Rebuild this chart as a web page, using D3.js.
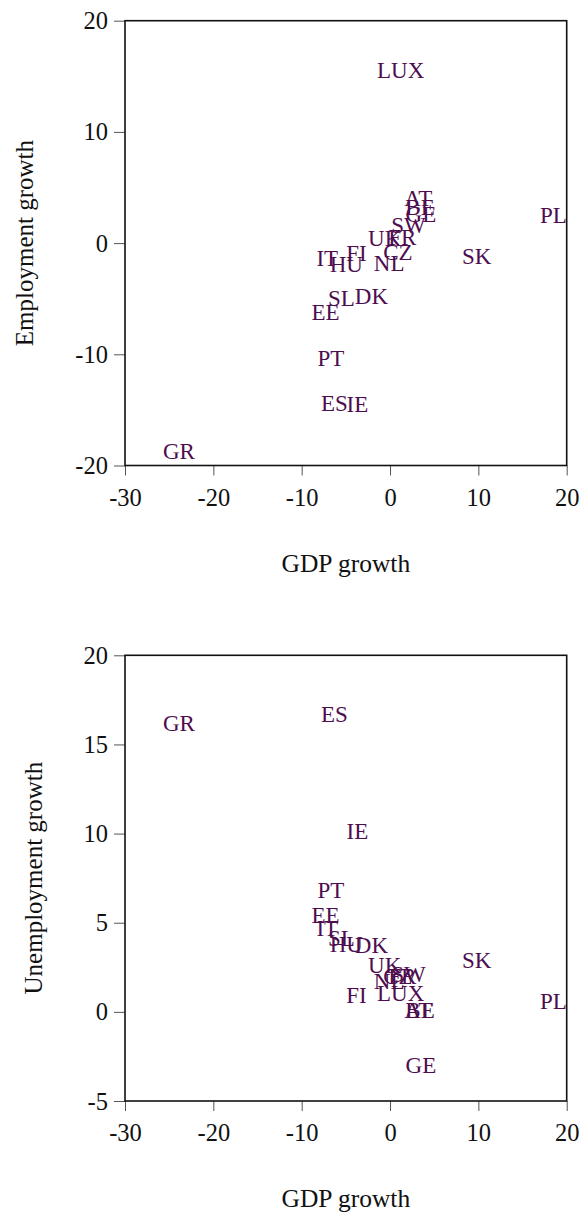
<!DOCTYPE html>
<html>
<head>
<meta charset="utf-8">
<script src="https://cdn.jsdelivr.net/npm/d3@7"></script>
<style>
  html, body { margin: 0; padding: 0; background: #fff; }
  svg { display: block; }
  text { font-family: "Liberation Serif", "Times New Roman", serif; }
</style>
</head>
<body>
<svg id="chart" width="580" height="1214"></svg>
<script>
// ---- Data ----
const countries = ["AT","BE","CZ","DK","EE","FI","FR","GE","GR","HU","IE","IT","LUX","NL","PL","PT","SK","SL","ES","SW","UK"];
const gdpGrowth = [3.2, 3.4, 0.9, -2.1, -7.3, -3.8, 1.4, 3.5, -23.9, -4.95, -3.7, -7.1, 1.2, -0.1, 18.5, -6.7, 9.8, -5.5, -6.3, 2.1, -0.6];
const employmentGrowth = [4.0, 3.2, -0.8, -4.8, -6.2, -0.9, 0.55, 2.6, -18.7, -1.9, -14.5, -1.4, 15.5, -1.8, 2.5, -10.4, -1.2, -5.0, -14.4, 1.6, 0.4];
const unemploymentGrowth = [0.1, 0.1, 2.0, 3.75, 5.4, 0.95, 2.0, -3.0, 16.2, 3.8, 10.1, 4.7, 1.05, 1.7, 0.6, 6.8, 2.9, 4.1, 16.7, 2.1, 2.6];

const xTicks = [-30, -20, -10, 0, 10, 20];
const yTicksTop = [-20, -10, 0, 10, 20];
const yTicksBottom = [-5, 0, 5, 10, 15, 20];

const svg = d3.select("#chart");
const labelColor = "#4e0d4f";
const fmt = d => String(d);

function panel(cfg) {
  const x = d3.scaleLinear().domain([-30, 20]).range([125, 566.7]);
  const y = d3.scaleLinear().domain(cfg.yDomain).range([cfg.bottom, cfg.top]);
  const g = svg.append("g");

  // axes
  const ax = g.append("g")
    .attr("transform", `translate(0,${cfg.bottom})`)
    .call(d3.axisBottom(x).tickValues(xTicks).tickSize(10).tickPadding(13).tickFormat(fmt));
  const ay = g.append("g")
    .attr("transform", `translate(125,0)`)
    .call(d3.axisLeft(y).tickValues(cfg.yTicks).tickSize(11).tickPadding(6).tickFormat(fmt));
  [ax, ay].forEach(a => {
    a.select(".domain").remove();
    a.selectAll(".tick line").attr("stroke", "#555").attr("stroke-width", 1);
    a.selectAll(".tick text")
      .attr("font-family", "'Liberation Serif', 'Times New Roman', serif")
      .attr("font-size", 24.5).attr("fill", "#111");
  });
  ay.selectAll(".tick text").attr("dy", "0.33em");
  ax.selectAll(".tick text").attr("dy", "0.71em");

  // frame
  g.append("rect")
    .attr("x", x(-30)).attr("y", y(cfg.yDomain[1]))
    .attr("width", x(20) - x(-30)).attr("height", y(cfg.yDomain[0]) - y(cfg.yDomain[1]))
    .attr("fill", "none").attr("stroke", "#111").attr("stroke-width", 1.6);

  // labels as marks
  g.append("g").selectAll("text")
    .data(countries.map((c, i) => ({ c, gx: gdpGrowth[i], v: cfg.values[i] })))
    .join("text")
    .attr("x", d => x(d.gx))
    .attr("y", d => y(d.v))
    .attr("dy", "0.33em")
    .attr("text-anchor", "middle")
    .attr("font-size", 23)
    .attr("fill", labelColor)
    .text(d => d.c);

  // axis titles
  g.append("text")
    .attr("x", (x(-30) + x(20)) / 2)
    .attr("y", cfg.bottom + 106)
    .attr("text-anchor", "middle")
    .attr("font-size", 25.5).attr("fill", "#111")
    .text("GDP growth");
  g.append("text")
    .attr("transform", `translate(${cfg.titleX},${(cfg.top + cfg.bottom) / 2}) rotate(-90)`)
    .attr("text-anchor", "middle")
    .attr("font-size", 25).attr("fill", "#111")
    .text(cfg.yTitle);
}

panel({ yDomain: [-20, 20], top: 20.7, bottom: 465.5, yTicks: yTicksTop,
        values: employmentGrowth, yTitle: "Employment growth", titleX: 33 });
panel({ yDomain: [-5, 20], top: 655.3, bottom: 1101, yTicks: yTicksBottom,
        values: unemploymentGrowth, yTitle: "Unemployment growth", titleX: 42 });
</script>
</body>
</html>
